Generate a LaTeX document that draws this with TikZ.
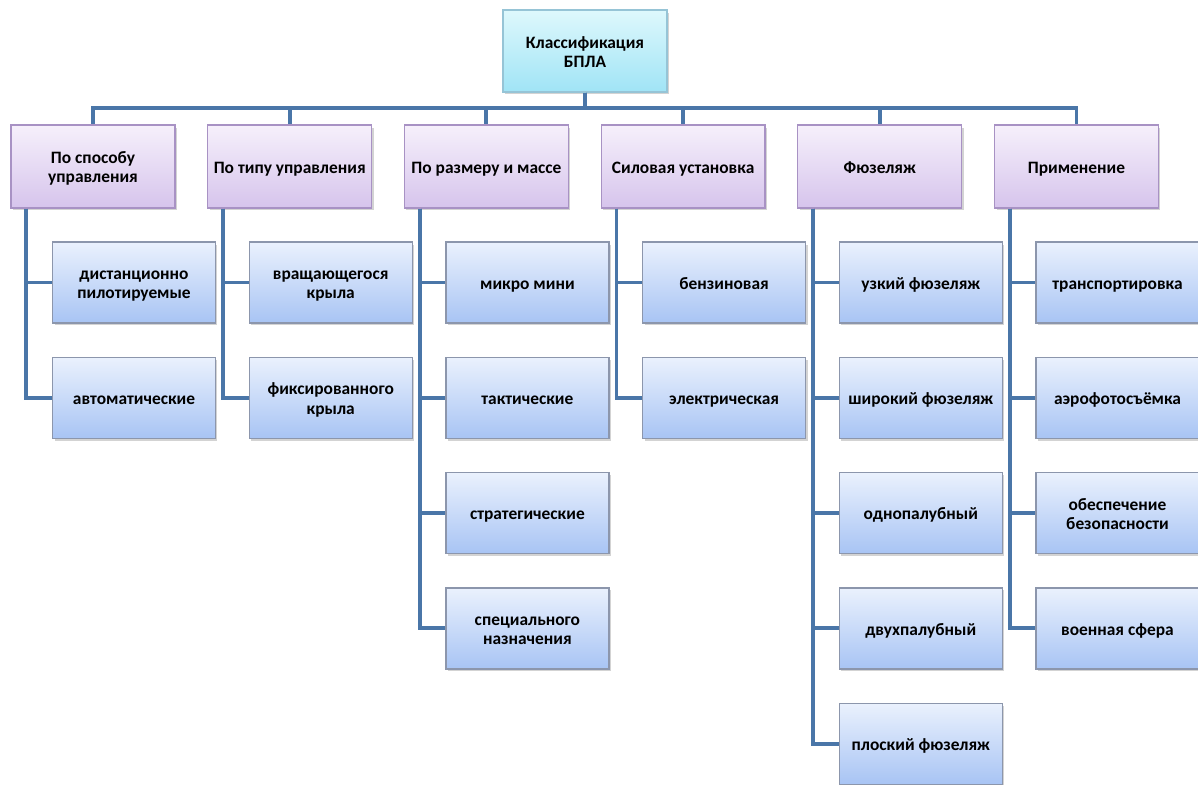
\documentclass[tikz,border=0pt]{standalone}
\usepackage{fontspec}
\setmainfont{Carlito}
\usetikzlibrary{shadows}

\definecolor{linkblue}{RGB}{74,118,168}
\definecolor{roottop}{RGB}{222,248,252}
\definecolor{rootbot}{RGB}{160,228,246}
\definecolor{rootedge}{RGB}{150,196,214}
\definecolor{cattop}{RGB}{246,240,251}
\definecolor{catbot}{RGB}{214,196,236}
\definecolor{catedge}{RGB}{168,146,196}
\definecolor{leaftop}{RGB}{234,241,253}
\definecolor{leafbot}{RGB}{168,196,244}
\definecolor{leafedge}{RGB}{140,150,172}

% text block with fixed top and bottom room
\newcommand{\boxtext}[1]{\begin{tabular}{@{}c@{}}\rule{0pt}{11pt}#1\rule[-3.3pt]{0pt}{3.3pt}\end{tabular}}

\tikzset{
  box/.style={draw, line width=0.7pt, inner sep=2pt,
    font=\fontsize{9.9}{11}\selectfont\bfseries, minimum width=3.28cm,
    drop shadow={shadow xshift=0.04cm, shadow yshift=-0.05cm, opacity=0.35}},
  rootbox/.style={box, draw=rootedge, top color=roottop, bottom color=rootbot, minimum height=1.64cm},
  catbox/.style={box, draw=catedge, top color=cattop, bottom color=catbot, minimum height=1.66cm},
  leafbox/.style={box, draw=leafedge, top color=leaftop, bottom color=leafbot, minimum height=1.62cm, minimum width=3.26cm},
  link/.style={draw=linkblue, line width=2.2pt}
}

\begin{document}
\begin{tikzpicture}[x=0.02cm, y=-0.02cm]
  \useasboundingbox (0,0) rectangle (1198,785);
  \node[rootbox] (root) at (585,51) {\boxtext{Классификация\\БПЛА}};
  \coordinate (bus) at (585,108);
  \foreach \i/\name/\leaves in {
      1/{По способу\\управления}/{{дистанционно\\пилотируемые},автоматические},
      2/{По типу управления}/{{вращающегося\\крыла},{фиксированного\\крыла}},
      3/{По размеру и массе}/{микро мини,тактические,стратегические,{специального\\назначения}},
      4/{Силовая установка}/{бензиновая,электрическая},
      5/{Фюзеляж}/{узкий фюзеляж,широкий фюзеляж,однопалубный,двухпалубный,плоский фюзеляж},
      6/{Применение}/{транспортировка,аэрофотосъёмка,{обеспечение\\безопасности},военная сфера}} {
      \node[catbox] (c\i) at ({93+196.7*(\i-1)},166.5) {\boxtext{\name}};
      \draw[link] (root.south) -- (bus) -| (c\i.north);
      \foreach \leaf [count=\j] in \leaves {
          \node[leafbox] (l\i-\j) at ({134+196.7*(\i-1)},{282.5+115.3*(\j-1)}) {\boxtext{\leaf}};
          \draw[link] ([xshift=0.32cm]c\i.south west) |- (l\i-\j.west);
        }
    }
\end{tikzpicture}
\end{document}
